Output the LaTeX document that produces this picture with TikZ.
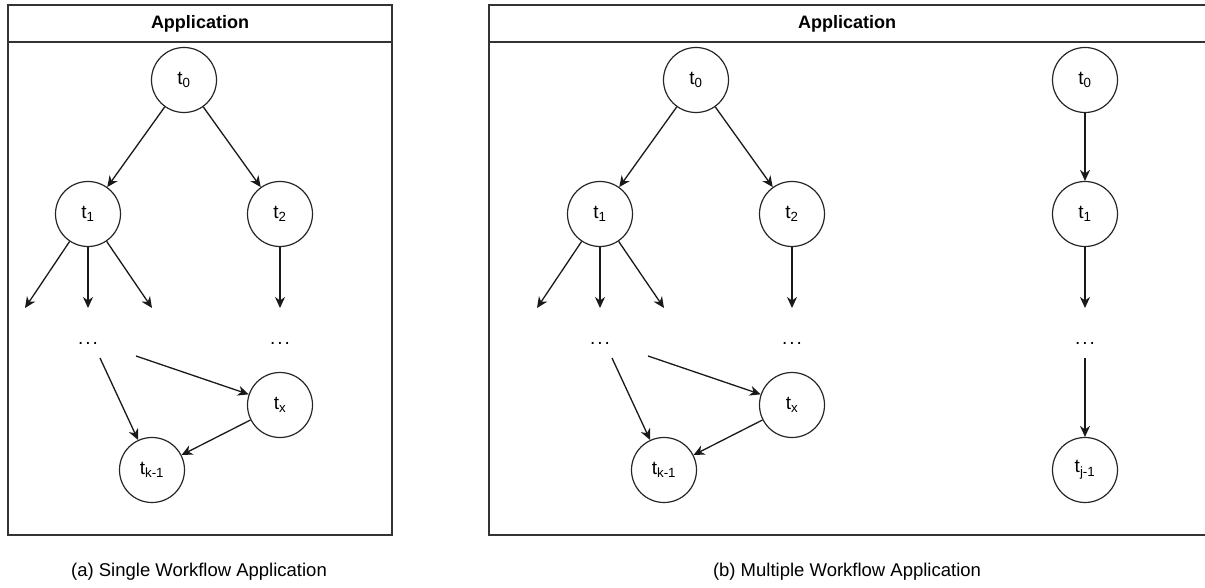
\documentclass[tikz,border=0pt]{standalone}
\usepackage{fontspec}
\setmainfont{Liberation Sans}
\usetikzlibrary{arrows.meta}
\newcommand\tsub[1]{t\textsubscript{#1}}
\begin{document}
\begin{tikzpicture}[x=1pt,y=-1pt,
 task/.style={circle,draw=black!85,line width=1.2pt,minimum size=65pt,inner sep=0pt,font=\fontsize{19}{21}\selectfont},
 box/.style={draw=black!80,line width=1.3pt},
 arr/.style={-{Stealth[length=11pt,width=10pt,inset=3.5pt]},line width=1.3pt,draw=black!90},
 dotsnode/.style={font=\fontsize{19}{21}\selectfont,inner sep=0pt},
 titlenode/.style={font=\bfseries\fontsize{18}{20}\selectfont,inner sep=0pt},
 capnode/.style={font=\fontsize{18.5}{20}\selectfont,inner sep=0pt}]
\useasboundingbox (0,0) rectangle (1205,588);
% left box
\draw[box] (8,5) rectangle (392,535);
\draw[box] (8,42) -- (392,42);
\node[titlenode] (titleA) at (200,24) {Application};
% right box
\draw[box] (489,5) rectangle (1215,535);
\draw[box] (489,42) -- (1215,42);
\node[titlenode] (titleB) at (847,24) {Application};

% ---- left diagram
\node[task] (a0) at (184,80) {\tsub{0}};
\node[task] (a1) at (88,214) {\tsub{1}};
\node[task] (a2) at (280,214) {\tsub{2}};
\node[dotsnode] (ad1) at (88,343) {.\kern2pt.\kern2pt.};
\node[dotsnode] (ad2) at (280,343) {.\kern2pt.\kern2pt.};
\node[task] (ax) at (280,405) {\tsub{x}};
\node[task] (ak) at (152,470) {\tsub{k-1}};
\coordinate (afa) at (25,308);
\coordinate (afb) at (88,308);
\coordinate (afc) at (152,308);
\coordinate (af2) at (280,308);
\coordinate (as1) at (100,358);
\coordinate (as2) at (136,356);
\draw[arr] (a0) -- (a1);
\draw[arr] (a0) -- (a2);
\draw[arr] (a1) -- (afa);
\draw[arr] (a1) -- (afb);
\draw[arr] (a1) -- (afc);
\draw[arr] (a2) -- (af2);
\draw[arr] (as1) -- (ak);
\draw[arr] (as2) -- (ax);
\draw[arr] (ax) -- (ak);

% ---- right diagram, first workflow
\node[task] (b0) at (696,80) {\tsub{0}};
\node[task] (b1) at (600,214) {\tsub{1}};
\node[task] (b2) at (792,214) {\tsub{2}};
\node[dotsnode] (bd1) at (600,343) {.\kern2pt.\kern2pt.};
\node[dotsnode] (bd2) at (792,343) {.\kern2pt.\kern2pt.};
\node[task] (bx) at (792,405) {\tsub{x}};
\node[task] (bk) at (664,470) {\tsub{k-1}};
\coordinate (bfa) at (537,308);
\coordinate (bfb) at (600,308);
\coordinate (bfc) at (664,308);
\coordinate (bf2) at (792,308);
\coordinate (bs1) at (612,358);
\coordinate (bs2) at (648,356);
\draw[arr] (b0) -- (b1);
\draw[arr] (b0) -- (b2);
\draw[arr] (b1) -- (bfa);
\draw[arr] (b1) -- (bfb);
\draw[arr] (b1) -- (bfc);
\draw[arr] (b2) -- (bf2);
\draw[arr] (bs1) -- (bk);
\draw[arr] (bs2) -- (bx);
\draw[arr] (bx) -- (bk);

% ---- right diagram, second workflow
\node[task] (c0) at (1085,80) {\tsub{0}};
\node[task] (c1) at (1085,214) {\tsub{1}};
\node[dotsnode] (cd) at (1085,343) {.\kern2pt.\kern2pt.};
\node[task] (cj) at (1085,470) {\tsub{j-1}};
\coordinate (cf1) at (1085,308);
\coordinate (cs) at (1085,358);
\draw[arr] (c0) -- (c1);
\draw[arr] (c1) -- (cf1);
\draw[arr] (cs) -- (cj);

% captions
\node[capnode] (capA) at (199,572) {(a) Single Workflow Application};
\node[capnode] (capB) at (847,572) {(b) Multiple Workflow Application};
\end{tikzpicture}
\end{document}
